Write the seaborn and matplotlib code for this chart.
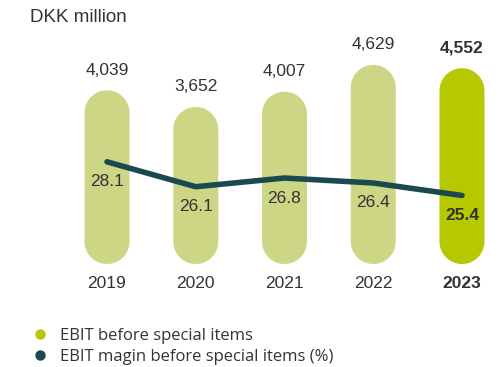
import matplotlib
matplotlib.use("Agg")
import matplotlib.pyplot as plt
import seaborn as sns
import pandas as pd
import numpy as np
from matplotlib.patches import PathPatch
from matplotlib.path import Path
from matplotlib.lines import Line2D
from matplotlib.transforms import IdentityTransform

years = ["2019", "2020", "2021", "2022", "2023"]
ebit = [4039, 3652, 4007, 4629, 4552]
margin = [28.1, 26.1, 26.8, 26.4, 25.4]
ebit_labels = ["4,039", "3,652", "4,007", "4,629", "4,552"]
margin_labels = ["28.1", "26.1", "26.8", "26.4", "25.4"]
unit_label = "DKK million"
legend_labels = ["EBIT before special items", "EBIT magin before special items (%)"]

light_green = "#cdd685"
bright_green = "#b5c800"
line_color = "#1a4a4f"
text_color = "#333333"

sns.set_theme(style="white")
plt.rcParams["font.family"] = ["Liberation Sans", "DejaVu Sans"]

W, H = 501, 367
fig = plt.figure(figsize=(W / 100, H / 100), dpi=100)
ax = fig.add_axes([0, 0, 1, 1])

df = pd.DataFrame({"year": years, "ebit": ebit, "margin": margin})
palette = [light_green] * 4 + [bright_green]
sns.barplot(data=df, x="year", y="ebit", hue="year", palette=palette,
            legend=False, ax=ax, width=0.507, saturation=1)

# pixel mapping
x0_px, dx_px = 107.0, 88.75
y0_px, sy = 264.0, 0.043  # px per unit
ax.set_xlim(-x0_px / dx_px, (W - x0_px) / dx_px)
ax.set_ylim(-(H - y0_px) / sy, y0_px / sy)
ax.axis("off")
yunit_per_px = 1 / sy


def pill_path(px0, py0, pw, ph):
    r = pw / 2
    cx = px0 + r
    top = Path.arc(0, 180, n=32)
    bot = Path.arc(180, 360, n=32)
    tv = top.vertices * r + [cx, py0 + ph - r]
    bv = bot.vertices * r + [cx, py0 + r]
    verts = np.vstack([tv, bv, tv[:1]])
    codes = ([Path.MOVETO] + list(top.codes[1:]) + [Path.LINETO]
             + list(bot.codes[1:]) + [Path.CLOSEPOLY])
    return Path(verts, codes)


fig.canvas.draw()
for p in list(ax.patches):
    x, y, w, h = p.get_x(), p.get_y(), p.get_width(), p.get_height()
    fc = p.get_facecolor()
    p.remove()
    (px0, py0), (px1, py1) = ax.transData.transform([(x, y), (x + w, y + h)])
    patch = PathPatch(pill_path(px0, py0, px1 - px0, py1 - py0),
                      transform=IdentityTransform(), facecolor=fc,
                      edgecolor="none", zorder=2)
    ax.add_artist(patch)

for i, (v, lab) in enumerate(zip(ebit, ebit_labels)):
    ax.text(i, v + 20 * yunit_per_px, lab, ha="center", va="center",
            fontsize=12.5, color=text_color,
            fontweight="bold" if i == 4 else "normal")
    ax.text(i, -(283 - y0_px) * yunit_per_px, years[i], ha="center", va="center",
            fontsize=12.5, color=text_color,
            fontweight="bold" if i == 4 else "normal")

ax2 = ax.twinx()
ax2.set_position([0, 0, 1, 1])
ms = 12.47
m0, y_m0 = 26.56, 181.0
ax2.set_ylim(m0 - (H - y_m0) / ms, m0 + y_m0 / ms)
sns.lineplot(x=list(range(5)), y=margin, ax=ax2, color=line_color,
             linewidth=4, solid_capstyle="round", zorder=3)
ax2.set_xlim(ax.get_xlim())
ax2.axis("off")
for i, (m, lab) in enumerate(zip(margin, margin_labels)):
    ax2.text(i, m - 20 / ms, lab, ha="center", va="center", fontsize=12.5,
             color=text_color, fontweight="bold" if i == 4 else "normal")

fig.text(30 / W, 1 - 18 / H, unit_label, ha="left", va="center",
         fontsize=13.5, color=text_color)

handles = [Line2D([], [], marker="o", linestyle="none", markersize=7.5,
                  markerfacecolor=bright_green, markeredgecolor="none"),
           Line2D([], [], marker="o", linestyle="none", markersize=7.5,
                  markerfacecolor=line_color, markeredgecolor="none")]
leg = fig.legend(handles, legend_labels, loc="upper left",
                 bbox_to_anchor=(32 / W, 1 - 328 / H), frameon=False,
                 handletextpad=0.7, labelspacing=0.3, borderaxespad=0,
                 borderpad=0, handlelength=1.0,
                 prop={"family": ["Open Sans", "DejaVu Sans"], "size": 12})
for t in leg.get_texts():
    t.set_color(text_color)

fig.savefig("out.png", dpi=100)
